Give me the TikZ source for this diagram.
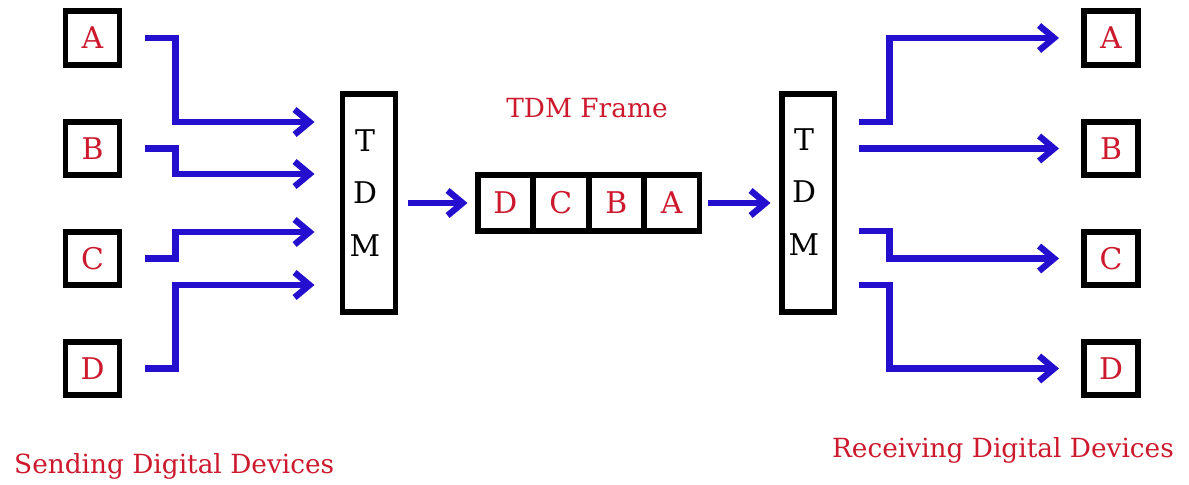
\documentclass[tikz,border=0pt]{standalone}
\usepackage{fontspec}
\setmainfont{DejaVu Serif}
\usepackage{tikz}
\usetikzlibrary{positioning,arrows.meta}
\definecolor{wireblue}{RGB}{35,15,205}
\definecolor{devred}{RGB}{205,25,45}

\begin{document}
\begin{tikzpicture}[
    x=0.02cm, y=-0.02cm,
    dev/.style={draw=black, line width=3.4pt, minimum width=1.08cm, minimum height=1.07cm,
      inner sep=0pt, text=devred, font=\fontsize{17}{20}\selectfont},
    cell/.style={dev, minimum width=1.11cm, minimum height=1.12cm},
    mux/.style={draw=black, line width=3.4pt, minimum width=1.06cm, minimum height=4.36cm, inner sep=0pt},
    muxtxt/.style={align=center, font=\fontsize{17}{30}\selectfont},
    link/.style={wireblue, line width=3.6pt, -{Straight Barb[length=3mm, width=5mm]}},
    lbl/.style={text=devred, font=\fontsize{15}{18}\selectfont},
  ]
    \useasboundingbox (0,0) rectangle (1189,484);

    % ---------- sending side ----------
    \node[dev] (sA) at (92.5,38)    {A};
    \node[dev] (sB) at (92.5,148.5) {B};
    \node[dev] (sC) at (92.5,258.5) {C};
    \node[dev] (sD) at (92.5,368.5) {D};
    \node[mux] (mx) at (369,203) {};
    \node[muxtxt] (mxt) at ([xshift=-0.08cm, yshift=0.2cm]mx.center) {T\\D\\M};
    \foreach \n/\dy in {A/1.62, B/0.58, C/-0.58, D/-1.64}
      \draw[link] ([xshift=4.6mm]s\n.east) -- ++(30,0) |- ([xshift=-5mm, yshift=\dy cm]mx.west);
    \node[lbl, anchor=west] (lsend) at (8,466) {Sending Digital Devices};

    % ---------- frame ----------
    \node[cell] (fD) at (505.25,203) {D};
    \node[cell] (fC) at (560.75,203) {C};
    \node[cell] (fB) at (616.25,203) {B};
    \node[cell] (fA) at (671.75,203) {A};
    \node[lbl] (ftitle) at (587,108) {TDM Frame};

    % ---------- receiving side ----------
    \node[mux] (dx) at (808,203) {};
    \node[muxtxt] (dxt) at ([xshift=-0.08cm, yshift=0.22cm]dx.center) {T\\D\\M};
    \node[dev] (rA) at (1111,38)    {A};
    \node[dev] (rB) at (1111,148.5) {B};
    \node[dev] (rC) at (1111,258.5) {C};
    \node[dev] (rD) at (1111,368.5) {D};
    \draw[link, shorten <=2mm, shorten >=1.4mm] (mx.east) -- (fD.west);
    \draw[link, shorten <=1.2mm, shorten >=1.6mm] (fA.east) -- (dx.west);
    \foreach \n/\dy in {A/1.62, B/1.09, C/-0.56, D/-1.64}
      \draw[link] ([xshift=4.4mm, yshift=\dy cm]dx.east) -- ++(30,0) |- ([xshift=-4.4mm]r\n.west);
    \node[lbl, anchor=east] (lrecv) at (1180,450) {Receiving Digital Devices};
  \end{tikzpicture}
\end{document}
